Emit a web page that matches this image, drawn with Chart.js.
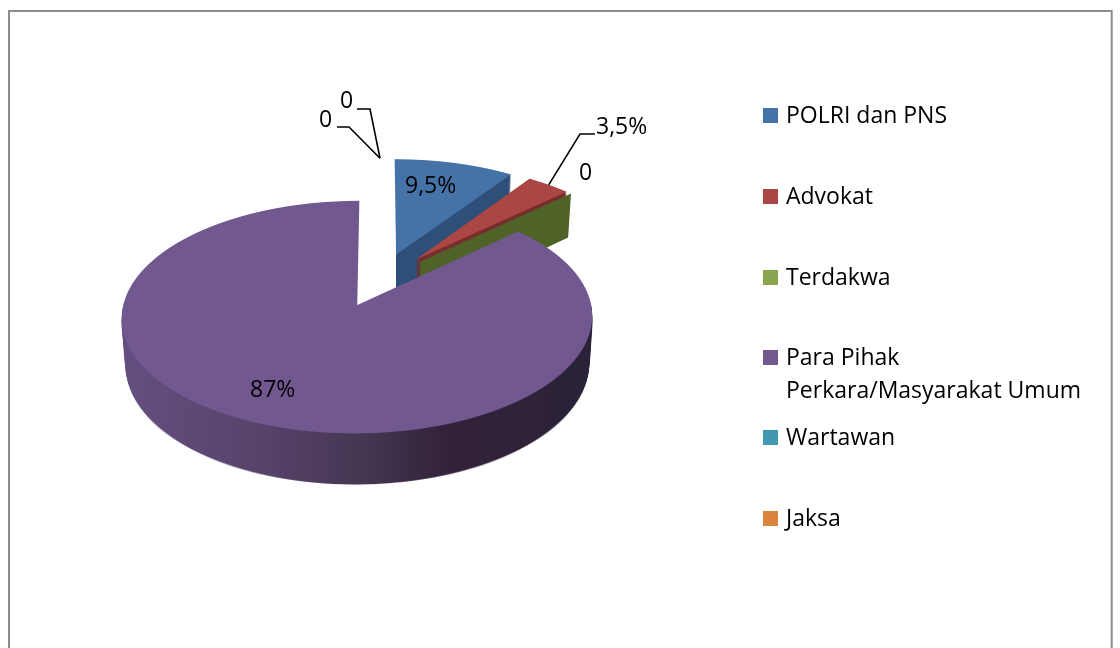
<!DOCTYPE html>
<html>
<head>
<meta charset="utf-8">
<title>Pie</title>
<script src="https://cdn.jsdelivr.net/npm/chart.js@4/dist/chart.umd.js"></script>
<style>
    html, body { margin: 0; padding: 0; background: #ffffff; overflow: hidden; }
    canvas { display: block; }
</style>
</head>
<body>
<canvas id="pieChart" width="1120" height="648"></canvas>
<script>
// Chart data
const categories = ["POLRI dan PNS", "Advokat", "Terdakwa", ["Para Pihak", "Perkara/Masyarakat Umum"], "Wartawan", "Jaksa"];
const seriesValues = [9.5, 3.5, 0, 87, 0, 0];
const valueLabels = ["9,5%", "3,5%", "0", "87%", "0", "0"];

// Colours
const topColors = ["#4572A7", "#AA4643", "#89A54E", "#71588F", "#4198AF", "#DB843D"];
const wallColors = ["#2E5078", "#772D2B", "#4F6228", "#3E3050", "#2B6B7C", "#9C5D2A"];
const purpleWallStops = [[0, "#644E80"], [0.3, "#574269"], [0.55, "#41344F"], [0.69, "#33223A"], [1, "#2A2238"]];

// Layout of the text
const legendTop = [108, 189, 270, 350, 430, 511];
const labelSpots = [[405, 193], [596, 134], [579, 180], [250, 397], [319, 127], [340, 108]];
const leaderElbows = [null, [[595, 134], [580, 134]], null, null, [[337, 127], [349, 127]], [[357, 109], [370, 109]]];
const textFont = "23px 'Open Sans'";

// Perspective of the tilted pie, all units are pie radii
const explode = 0.245;
const centerX = 380, centerY = 279.8, radiusX = 228.6, radiusY = 109.9, tilt = 0.1011;
const wallX = 385, wallShrink = 0.0155, wallBase = 51, wallSlope = 0.0294, wallRef = 433;

function project(u, v, t) {
    let s = 1 / (1 - tilt * v);
    let x = centerX + radiusX * u * s;
    let y = centerY + radiusY * v * s;
    if (t) {
        x = wallX + (x - wallX) * (1 - wallShrink * t);
        y = y + t * (wallBase + wallSlope * (y - wallRef));
    }
    return [x, y];
}

function explodeOf(arc) {
    let mid = (arc.startAngle + arc.endAngle) / 2;
    return [explode * Math.cos(mid), explode * Math.sin(mid)];
}

function newLayer(chart) {
    let layer = document.createElement("canvas");
    layer.width = chart.width;
    layer.height = chart.height;
    return layer;
}

// Draw one library arc row by row, each row gets the scale of the perspective
function drawArcTilted(ctx, arc) {
    let [du, dv] = explodeOf(arc);
    let firstRow = Math.floor(project(0, -1.35)[1]);
    let lastRow = Math.ceil(project(0, 1.35)[1]);
    let rc = arc.outerRadius;
    for (let row = firstRow; row <= lastRow; row++) {
        let dy = row + 0.5 - centerY;
        let v = dy / (radiusY + tilt * dy);
        let s = 1 / (1 - tilt * v);
        let a = radiusX * s / rc;
        let d = radiusY * s * s / rc;
        let e = centerX + radiusX * s * (du - arc.x / rc);
        let f = row + 0.5 + radiusY * s * s * (dv - arc.y / rc - v);
        ctx.save();
        ctx.beginPath();
        ctx.rect(0, row, ctx.canvas.width, 1);
        ctx.clip();
        ctx.setTransform(a, 0, 0, d, e, f);
        arc.draw(ctx);
        ctx.restore();
    }
}

function wallFill(ctx, index) {
    if (index !== 3) return wallColors[index];
    let left = project(-1.1, 0)[0];
    let right = project(0.9, 0)[0];
    let gradient = ctx.createLinearGradient(left, 0, right, 0);
    purpleWallStops.forEach(stop => gradient.addColorStop(stop[0], stop[1]));
    return gradient;
}

function drawSlice(chart, arc, index) {
    let ctx = chart.ctx;
    let [du, dv] = explodeOf(arc);
    let apex = project(du, dv, 0);

    // A slice of zero has no surface, only its cut face shows
    if (arc.circumference === 0) {
        let ou = du + Math.cos(arc.startAngle);
        let ov = dv + Math.sin(arc.startAngle);
        if (Math.abs(ou - du) < 0.01) return; // seen edge on
        let corners = [apex, project(ou, ov, 0), project(ou, ov, 1), project(du, dv, 1)];
        ctx.fillStyle = wallColors[index];
        ctx.beginPath();
        corners.forEach(p => ctx.lineTo(p[0], p[1]));
        ctx.closePath();
        ctx.fill();
        return;
    }

    let top = newLayer(chart);
    drawArcTilted(top.getContext("2d"), arc);

    // Stack copies of the surface downwards for the wall
    let wall = newLayer(chart);
    let wallCtx = wall.getContext("2d");
    let steps = 60;
    for (let i = steps; i >= 1; i--) {
        let t = i / steps;
        let sx = 1 - wallShrink * t;
        let sy = 1 + t * wallSlope;
        wallCtx.setTransform(sx, 0, 0, sy, wallX * (1 - sx), t * (wallBase - wallSlope * wallRef));
        wallCtx.drawImage(top, 0, 0);
    }
    wallCtx.setTransform(1, 0, 0, 1, 0, 0);
    wallCtx.globalCompositeOperation = "source-in";
    wallCtx.fillStyle = wallFill(wallCtx, index);
    wallCtx.fillRect(0, 0, wall.width, wall.height);

    // The cut faces turned away from the viewer must not peek out
    ctx.save();
    ctx.beginPath();
    if (arc.circumference > Math.PI) ctx.rect(0, apex[1], chart.width, chart.height);
    else ctx.rect(apex[0], 0, chart.width, chart.height);
    ctx.clip();
    ctx.drawImage(wall, 0, 0);
    ctx.restore();
    ctx.drawImage(top, 0, 0);
}

function drawLegend(chart) {
    let ctx = chart.ctx;
    ctx.font = textFont;
    ctx.textAlign = "left";
    ctx.textBaseline = "alphabetic";
    chart.data.labels.forEach((label, i) => {
        ctx.fillStyle = topColors[i];
        ctx.fillRect(763, legendTop[i], 15, 15);
        ctx.fillStyle = "#000000";
        [].concat(label).forEach((line, n) => {
            ctx.fillText(line, 786, legendTop[i] + 15 + n * 33);
        });
    });
}

function drawValueLabels(chart) {
    let ctx = chart.ctx;
    let arcs = chart.getDatasetMeta(0).data;
    ctx.font = textFont;
    ctx.fillStyle = "#000000";
    ctx.textAlign = "left";
    ctx.textBaseline = "alphabetic";
    valueLabels.forEach((text, i) => {
        ctx.fillText(text, labelSpots[i][0], labelSpots[i][1]);
        if (!leaderElbows[i]) return;
        // Leader line runs from the text to the rim of its slice
        let mid = (arcs[i].startAngle + arcs[i].endAngle) / 2;
        let [du, dv] = explodeOf(arcs[i]);
        let end = project(du + Math.cos(mid), dv + Math.sin(mid), 0);
        ctx.strokeStyle = "#000000";
        ctx.lineWidth = 1.6;
        ctx.beginPath();
        leaderElbows[i].forEach(p => ctx.lineTo(p[0], p[1]));
        ctx.lineTo(end[0], end[1]);
        ctx.stroke();
    });
}

const tiltedPie = {
    id: "tiltedPie",
    beforeDraw(chart) {
        let ctx = chart.ctx;
        ctx.save();
        ctx.fillStyle = "#ffffff";
        ctx.fillRect(0, 0, chart.width, chart.height);
        // Frame, its bottom edge is cut off by the picture
        ctx.strokeStyle = "#8C8C8C";
        ctx.lineWidth = 2;
        ctx.strokeRect(9, 11, 1102.7, 800);
        ctx.restore();
    },
    beforeDatasetsDraw(chart) {
        chart.getDatasetMeta(0).data.forEach((arc, i) => drawSlice(chart, arc, i));
        return false;
    },
    afterDraw(chart) {
        chart.ctx.save();
        drawLegend(chart);
        drawValueLabels(chart);
        chart.ctx.restore();
    }
};

new Chart(document.getElementById("pieChart"), {
    type: "pie",
    data: {
        labels: categories,
        datasets: [{
            data: seriesValues,
            backgroundColor: topColors,
            borderWidth: 0
        }]
    },
    options: {
        responsive: false,
        animation: false,
        events: [],
        plugins: {
            legend: { display: false },
            tooltip: { enabled: false }
        }
    },
    plugins: [tiltedPie]
});
</script>
</body>
</html>
